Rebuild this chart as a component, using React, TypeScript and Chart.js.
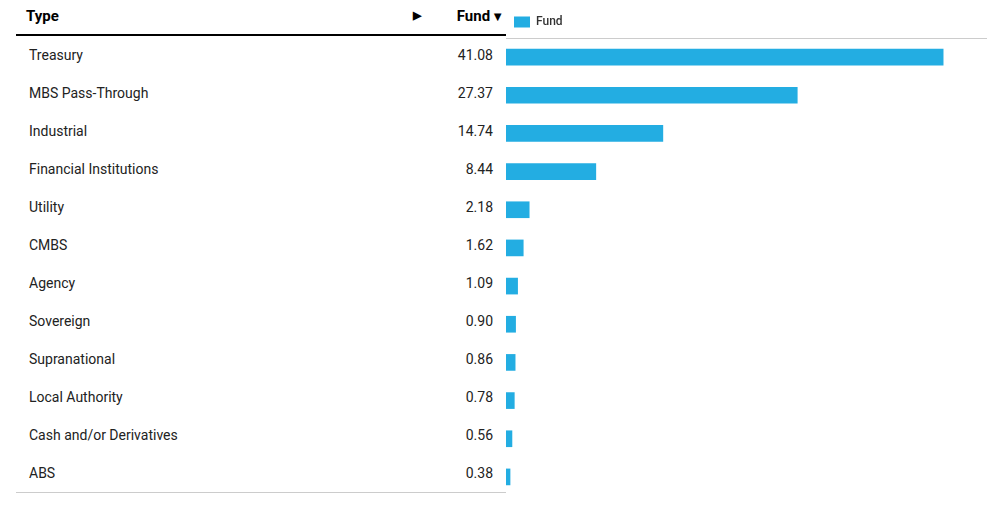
import React, { useEffect, useRef } from "react";
import { Chart, registerables } from "chart.js";

Chart.register(...registerables);

const categories: string[] = [
  "Treasury",
  "MBS Pass-Through",
  "Industrial",
  "Financial Institutions",
  "Utility",
  "CMBS",
  "Agency",
  "Sovereign",
  "Supranational",
  "Local Authority",
  "Cash and/or Derivatives",
  "ABS",
];

const fundValues: number[] = [41.08, 27.37, 14.74, 8.44, 2.18, 1.62, 1.09, 0.9, 0.86, 0.78, 0.56, 0.38];

const seriesLabel = "Fund";
const columnHeader = "Type";
const xMin = 0;
const xMax = 45.2;

const FONT = "Roboto, 'Noto Sans', Arial, sans-serif";
const BAR_COLOR = "#23ADE2";

export default function App() {
  const canvasRef = useRef<HTMLCanvasElement | null>(null);

  useEffect(() => {
    document.body.style.margin = "0";
    const canvas = canvasRef.current;
    if (!canvas) return;
    const chart = new Chart(canvas, {
      type: "bar",
      data: {
        labels: categories,
        datasets: [
          {
            label: seriesLabel,
            data: fundValues,
            backgroundColor: BAR_COLOR,
            borderWidth: 0,
            barThickness: 16,
          },
        ],
      },
      options: {
        indexAxis: "y",
        responsive: false,
        animation: false,
        devicePixelRatio: 1,
        layout: { padding: { top: 8, left: 0, right: 0, bottom: 0 } },
        plugins: {
          legend: {
            display: true,
            position: "top",
            align: "start",
            labels: {
              boxWidth: 16,
              boxHeight: 11,
              padding: 8,
              color: "#333",
              font: { family: FONT, size: 12, weight: "500" },
            },
          },
          tooltip: { enabled: false },
        },
        scales: {
          x: {
            position: "top",
            min: xMin,
            max: xMax,
            grid: { display: false, drawTicks: false },
            ticks: { display: false },
            border: { display: true, color: "#cccccc", width: 1 },
          },
          y: {
            display: false,
          },
        },
      },
    });
    return () => chart.destroy();
  }, []);

  const rowTop = 36;
  const rowH = 38;

  return (
    <div style={{ position: "relative", width: 992, height: 514, fontFamily: FONT, background: "#fff" }}>
      {/* header */}
      <div
        style={{
          position: "absolute",
          left: 16,
          top: 0,
          width: 490,
          height: 34,
          borderBottom: "2px solid #000",
          fontWeight: 700,
          fontSize: 15,
          color: "#000",
        }}
      >
        <span style={{ position: "absolute", left: 10, top: 0, lineHeight: "32px" }}>{columnHeader}</span>
        <span style={{ position: "absolute", left: 397, top: 0, lineHeight: "32px", fontSize: 11 }}>▶</span>
        <span style={{ position: "absolute", right: 2, top: 0, lineHeight: "32px" }}>
          {seriesLabel}
          <span style={{ fontSize: 13, marginLeft: 1 }}>▼</span>
        </span>
      </div>
      {/* rows */}
      {categories.map((c, i) => (
        <div
          key={c}
          style={{
            position: "absolute",
            left: 16,
            top: rowTop + i * rowH,
            width: 490,
            height: rowH,
            lineHeight: rowH + "px",
            fontSize: 14,
            color: "#222",
          }}
        >
          <span style={{ position: "absolute", left: 13 }}>{c}</span>
          <span style={{ position: "absolute", right: 13 }}>{fundValues[i].toFixed(2)}</span>
        </div>
      ))}
      <div
        style={{
          position: "absolute",
          left: 16,
          top: rowTop + categories.length * rowH,
          width: 490,
          height: 0,
          borderTop: "1px solid #ccc",
        }}
      />
      <div style={{ position: "absolute", left: 506, top: 0, width: 481, height: 496 }}>
        <canvas ref={canvasRef} width={481} height={496} style={{ display: "block", width: 481, height: 496 }} />
      </div>
    </div>
  );
}
